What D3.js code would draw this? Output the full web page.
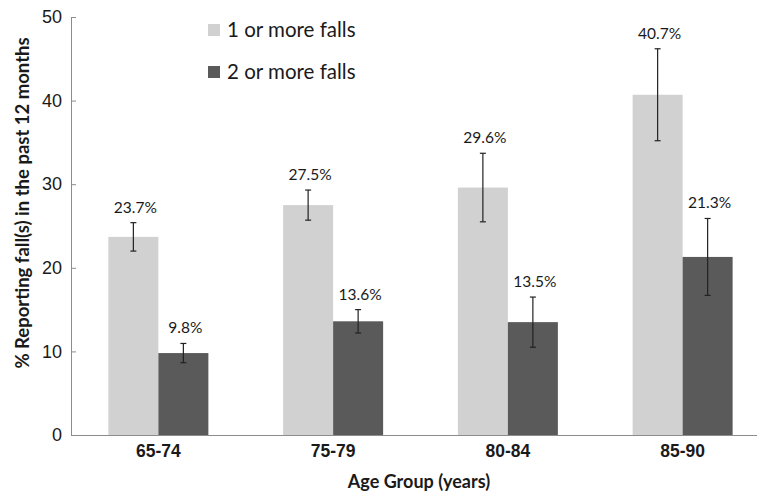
<!DOCTYPE html>
<html>
<head>
<meta charset="utf-8">
<script src="https://cdn.jsdelivr.net/npm/d3@7"></script>
<style>
  html, body { margin: 0; padding: 0; background: #fff; }
  svg { display: block; font-family: Lato, "Open Sans", sans-serif; }
</style>
</head>
<body>
<svg id="chart" width="757" height="494"></svg>
<script>
// Age groups and fall prevalence (%), with error half-widths
const categories = ["65-74", "75-79", "80-84", "85-90"];
const seriesNames = ["1 or more falls", "2 or more falls"];
const oneOrMore = [23.7, 27.5, 29.6, 40.7];
const twoOrMore = [9.8, 13.6, 13.5, 21.3];
const oneOrMoreErr = [1.7, 1.8, 4.1, 5.5];
const twoOrMoreErr = [1.15, 1.4, 3.0, 4.6];
const yTicks = [0, 10, 20, 30, 40, 50];

const colors = ["#d0d1d0", "#5a5a5a"];

const svg = d3.select("#chart");
const plotLeft = 71, plotRight = 770, plotTop = 17, plotBottom = 435;

const x = d3.scaleBand().domain(categories).range([plotLeft, plotRight]).padding(0);
const barW = 50;
const xs = d3.scaleBand().domain(seriesNames).range([0, barW * 2]);
const y = d3.scaleLinear().domain([0, 50]).range([plotBottom, plotTop]);

const rows = [];
categories.forEach((c, i) => {
  [oneOrMore, twoOrMore].forEach((vals, s) => {
    const errs = s === 0 ? oneOrMoreErr : twoOrMoreErr;
    rows.push({ cat: c, s, name: seriesNames[s], v: vals[i], e: errs[i] });
  });
});
const barX = d => x(d.cat) + x.bandwidth() / 2 - barW + xs(d.name);

// bars
svg.append("g").selectAll("rect").data(rows).join("rect")
  .attr("x", barX)
  .attr("y", d => y(d.v))
  .attr("width", xs.bandwidth())
  .attr("height", d => y(0) - y(d.v))
  .attr("fill", d => colors[d.s]);

// y axis
const yAxis = svg.append("g")
  .attr("transform", `translate(${plotLeft},0)`)
  .call(d3.axisLeft(y).tickValues(yTicks).tickSizeInner(-5).tickSizeOuter(0).tickPadding(9));
yAxis.select(".domain").attr("stroke", "#8c8c8c");
yAxis.selectAll(".tick line").attr("stroke", "#8c8c8c");
yAxis.selectAll(".tick text").attr("fill", "#1a1a1a").style("font-size", "18px");

// x axis
const xAxis = svg.append("g")
  .attr("transform", `translate(0,${plotBottom})`)
  .call(d3.axisBottom(x).tickSize(0).tickPadding(10));
xAxis.select(".domain").attr("stroke", "#8c8c8c");
xAxis.selectAll(".tick text").attr("fill", "#1a1a1a")
  .style("font-size", "17.5px").style("font-weight", "bold");

// error bars
const cap = 3;
const eb = svg.append("g").attr("stroke", "#222").attr("stroke-width", 1.2);
rows.forEach(d => {
  const cx = barX(d) + xs.bandwidth() / 2;
  const y1 = y(d.v + d.e), y2 = y(d.v - d.e);
  eb.append("line").attr("x1", cx).attr("x2", cx).attr("y1", y1).attr("y2", y2);
  eb.append("line").attr("x1", cx - cap).attr("x2", cx + cap).attr("y1", y1).attr("y2", y1);
  eb.append("line").attr("x1", cx - cap).attr("x2", cx + cap).attr("y1", y2).attr("y2", y2);
});

// value labels
svg.append("g").selectAll("text").data(rows).join("text")
  .attr("x", d => barX(d) + xs.bandwidth() / 2 + 2)
  .attr("y", d => y(d.v + d.e) - 10)
  .attr("text-anchor", "middle")
  .attr("fill", "#1a1a1a")
  .style("font-size", "15.5px")
  .text(d => d.v.toFixed(1) + "%");

// axis titles
svg.append("text")
  .attr("transform", "translate(29,203) rotate(-90)")
  .attr("text-anchor", "middle")
  .attr("fill", "#1a1a1a")
  .style("font-size", "18.5px").style("font-weight", "bold")
  .text("% Reporting  fall(s) in the past 12 months");

svg.append("text")
  .attr("x", 419).attr("y", 488)
  .attr("text-anchor", "middle")
  .attr("fill", "#1a1a1a")
  .style("font-size", "18px").style("font-weight", "bold")
  .text("Age Group (years)");

// legend
const legend = svg.append("g").attr("transform", "translate(208,24)");
seriesNames.forEach((n, i) => {
  const g = legend.append("g").attr("transform", `translate(0,${i * 42})`);
  g.append("rect").attr("width", 12).attr("height", 12).attr("fill", colors[i]);
  g.append("text").attr("x", 19).attr("y", 13)
    .attr("fill", "#1a1a1a").style("font-size", "20.5px").text(n);
});
</script>
</body>
</html>
